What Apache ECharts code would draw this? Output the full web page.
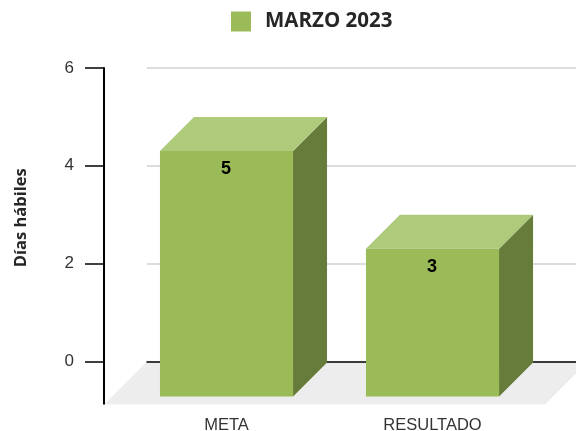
<!DOCTYPE html>
<html>
<head>
<meta charset="utf-8">
<style>
  html, body { margin: 0; padding: 0; background: #fff; }
  #main { width: 576px; height: 431px; }
</style>
<script src="https://cdn.jsdelivr.net/npm/echarts@6/dist/echarts.min.js"></script>
</head>
<body>
<div id="main"></div>
<script>
// datos
var categories = ['META', 'RESULTADO'];
var values = [5, 3];
var seriesName = 'MARZO 2023';
var yTitle = 'Días hábiles';

// profundidad del efecto 3D
var barDepth = 34;
var floorDepth = 43;

var myChart = echarts.init(document.getElementById('main'));

// suelo gris y el tramo del eje que baja hasta el plano frontal
function renderFloor(params, api) {
  var cs = params.coordSys;
  var y0 = api.coord([0, 0])[1];
  var right = cs.x + cs.width + 12;
  return {
    type: 'group',
    children: [
      {
        type: 'polygon',
        shape: { points: [[cs.x, y0], [right, y0], [right - floorDepth, y0 + floorDepth], [cs.x - floorDepth, y0 + floorDepth]] },
        style: { fill: '#ededed' }
      },
      {
        type: 'line',
        shape: { x1: cs.x - floorDepth, y1: y0, x2: cs.x - floorDepth, y2: y0 + floorDepth },
        style: { stroke: '#000', lineWidth: 2 }
      }
    ]
  };
}

// columna 3D: el valor se lee en el plano del fondo
function renderBar(params, api) {
  var i = api.value(0);
  var v = api.value(1);
  var center = api.coord([i, 0])[0];
  var y0 = api.coord([i, 0])[1];
  var yBack = api.coord([i, v])[1];
  var w = api.size([1, 0])[0] * 0.646;
  var x1 = center - w / 2;
  var x2 = center + w / 2;
  var top = yBack + barDepth;
  var bottom = y0 + barDepth + 1;
  return {
    type: 'group',
    children: [
      {
        type: 'polygon',
        shape: { points: [[x2, top], [x2 + barDepth, yBack], [x2 + barDepth, bottom - barDepth], [x2, bottom]] },
        style: { fill: '#677b3b' }
      },
      {
        type: 'polygon',
        shape: { points: [[x1, top], [x1 + barDepth, yBack], [x2 + barDepth, yBack], [x2, top]] },
        style: { fill: '#aeca7b' }
      },
      {
        type: 'rect',
        shape: { x: x1, y: top, width: w, height: bottom - top },
        style: { fill: '#9bbb59' }
      },
      {
        type: 'text',
        x: center - 0.5,
        y: top + 18.5,
        style: {
          text: String(v),
          fill: '#000',
          font: 'bold 18px "Liberation Sans"',
          textAlign: 'center',
          textVerticalAlign: 'middle'
        }
      }
    ]
  };
}

var option = {
  animation: false,
  backgroundColor: '#fff',
  legend: {
    left: 231,
    top: 11,
    padding: 0,
    itemWidth: 20,
    itemHeight: 20,
    data: [{ name: seriesName, icon: 'rect', itemStyle: { color: '#9bbb59' } }],
    textStyle: {
      color: '#262626',
      fontFamily: 'Open Sans',
      fontWeight: 'bold',
      fontSize: 20.5,
      padding: [3, 0, 0, 9]
    }
  },
  grid: [
    // pared del fondo
    { left: 147, right: 0, top: 68, bottom: 69.6, outerBoundsMode: 'none' },
    // plano de las columnas
    { left: 123.5, width: 412, top: 68, bottom: 69.6, outerBoundsMode: 'none' }
  ],
  xAxis: [
    {
      gridIndex: 0,
      type: 'category',
      data: categories,
      z: 3,
      axisLine: { lineStyle: { color: '#000', width: 1.5 } },
      axisTick: { show: false },
      axisLabel: { show: false }
    },
    {
      gridIndex: 1,
      type: 'category',
      data: categories,
      axisLine: { show: false },
      axisTick: { show: false },
      axisLabel: {
        margin: 56,
        color: '#333',
        fontFamily: 'Liberation Sans',
        fontSize: 16.5
      }
    }
  ],
  yAxis: [
    {
      gridIndex: 0,
      type: 'value',
      min: 0,
      max: 6,
      interval: 2,
      offset: 43,
      name: yTitle,
      nameLocation: 'middle',
      nameGap: 74,
      nameTextStyle: {
        color: '#262626',
        fontFamily: 'Open Sans',
        fontWeight: 'bold',
        fontSize: 16.5,
        padding: [0, 0, 0, -6]
      },
      axisLine: { show: true, lineStyle: { color: '#000', width: 2 } },
      axisTick: { show: true, length: 19, lineStyle: { color: '#000', width: 1.5 } },
      axisLabel: {
        margin: 30,
        color: '#333',
        fontFamily: 'Liberation Sans',
        fontSize: 17
      },
      splitLine: { lineStyle: { color: '#d0d0d0', width: 1.5 } }
    },
    {
      gridIndex: 1,
      type: 'value',
      min: 0,
      max: 6,
      interval: 2,
      show: false,
      splitLine: { show: false }
    }
  ],
  series: [
    {
      type: 'custom',
      name: 'suelo',
      xAxisIndex: 0,
      yAxisIndex: 0,
      clip: false,
      silent: true,
      z: 1,
      renderItem: renderFloor,
      data: [[0, 0]]
    },
    {
      type: 'custom',
      name: seriesName,
      xAxisIndex: 1,
      yAxisIndex: 1,
      clip: false,
      z: 5,
      renderItem: renderBar,
      encode: { x: 0, y: 1 },
      data: categories.map(function (c, i) { return [i, values[i]]; })
    }
  ]
};

myChart.setOption(option);
</script>
</body>
</html>
